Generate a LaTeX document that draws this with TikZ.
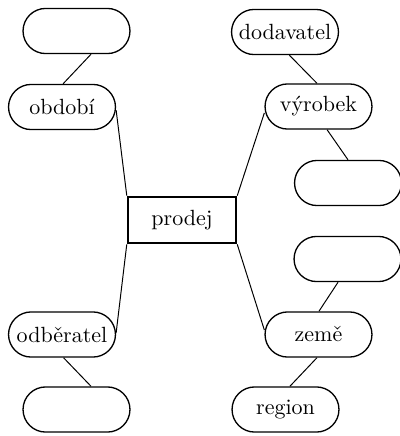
\documentclass[tikz,border=0pt]{standalone}
\usetikzlibrary{shapes.misc}
\begin{document}
\begin{tikzpicture}[x=0.4545pt,y=-0.4545pt,
  entity/.style={rounded rectangle, draw, line width=0.6pt,
    minimum width=48.6pt, minimum height=20.5pt, inner sep=0pt},
  fact/.style={rectangle, draw, line width=1.2pt,
    minimum width=49pt, minimum height=20.9pt, inner sep=0pt},
  link/.style={line width=0.45pt}]
\useasboundingbox (0,0) rectangle (399,436);

% dimension levels
\node[entity] (tl)  at (76.5,31)    {};
\node[entity] (ob)  at (62,107)     {období};
\node[entity] (dod) at (285,32)     {dodavatel};
\node[entity] (vyr) at (318.5,106.5){výrobek};
\node[entity] (rm)  at (348,183)    {};
\node[fact]   (pr)  at (182,220)    {prodej};
\node[entity] (rl)  at (347.5,259)  {};
\node[entity] (zem) at (318.5,334.5){země};
\node[entity] (odb) at (62,334.5)   {odběratel};
\node[entity] (reg) at (285.5,409.5){region};
\node[entity] (bl)  at (76.5,409.5) {};

% hierarchy links
\draw[link] ([xshift=6.6pt]tl.south) -- ([xshift=0.5pt]ob.north);
\draw[link] ([xshift=2pt]dod.south) -- ([xshift=-0.7pt]vyr.north);
\draw[link] ([xshift=3.9pt]vyr.south) -- (rm.north);
\draw[link] ([xshift=-4.3pt]rl.south) -- ([xshift=0.2pt]zem.north);
\draw[link] ([xshift=-0.7pt]zem.south) -- ([xshift=2pt]reg.north);
\draw[link] ([xshift=0.7pt]odb.south) -- ([xshift=6.6pt]bl.north);

% fact to dimensions
\draw[link] (pr.north west) -- ([yshift=-1.4pt]ob.east);
\draw[link] (pr.north east) -- ([yshift=-2.9pt]vyr.west);
\draw[link] (pr.south west) -- ([yshift=0.7pt]odb.east);
\draw[link] (pr.south east) -- ([yshift=2pt]zem.west);
\end{tikzpicture}
\end{document}
